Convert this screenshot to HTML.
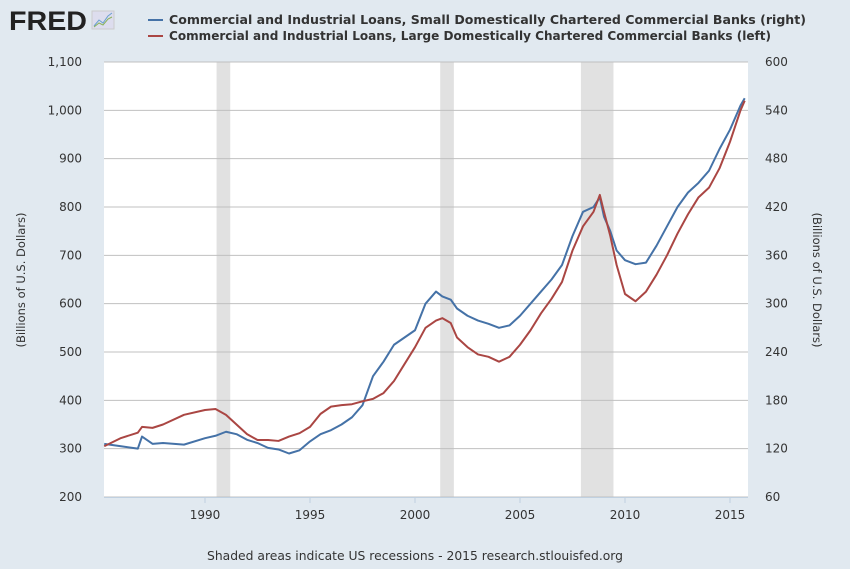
<!DOCTYPE html>
<html><head><meta charset="utf-8"><style>
body{margin:0;background:#e1e9f0;font-family:"DejaVu Sans",sans-serif;}
svg text{font-family:"DejaVu Sans",sans-serif;}
</style></head><body>
<svg width="850" height="565">
<rect x="0" y="0" width="850" height="565" fill="#e1e9f0"/>
<g>
<text x="9" y="30" font-size="27" font-weight="bold" fill="#222" style="font-family:'Liberation Sans',sans-serif" textLength="78" lengthAdjust="spacingAndGlyphs">FRED</text>
<rect x="92" y="11" width="22" height="18" fill="#dde" stroke="#ccc"/>
<polyline points="94,26 99,20 103,23 108,16 112,13" fill="none" stroke="#6a9fd0" stroke-width="1"/>
<polyline points="94,27 99,23 103,25 108,19 112,17" fill="none" stroke="#8ab35a" stroke-width="1"/>
</g>
<g>
<line x1="148" y1="20" x2="163" y2="20" stroke="#4572a7" stroke-width="2"/>
<text x="169" y="24" font-size="12" font-weight="bold" fill="#333" textLength="637" lengthAdjust="spacingAndGlyphs">Commercial and Industrial Loans, Small Domestically Chartered Commercial Banks (right)</text>
<line x1="148" y1="36" x2="163" y2="36" stroke="#aa4643" stroke-width="2"/>
<text x="169" y="40" font-size="12" font-weight="bold" fill="#333" textLength="602" lengthAdjust="spacingAndGlyphs">Commercial and Industrial Loans, Large Domestically Chartered Commercial Banks (left)</text>
</g>
<rect x="104" y="62" width="644" height="435" fill="#fff"/>
<g id="rec"></g><g id="grid"></g><g id="series"></g><g id="axes"></g>
<text x="0" y="0" transform="translate(25,280) rotate(-90)" text-anchor="middle" font-size="11.5" fill="#333">(Billions of U.S. Dollars)</text>
<text x="0" y="0" transform="translate(813,280) rotate(90)" text-anchor="middle" font-size="11.5" fill="#333">(Billions of U.S. Dollars)</text>
<text x="415" y="560" text-anchor="middle" font-size="12" fill="#333" textLength="416" lengthAdjust="spacingAndGlyphs">Shaded areas indicate US recessions - 2015 research.stlouisfed.org</text>
</svg>
<script>
const leftTicks=[200,300,400,500,600,700,800,900,1000,1100];
const leftLabels=["200","300","400","500","600","700","800","900","1,000","1,100"];
const rightTicks=[60,120,180,240,300,360,420,480,540,600];
const xTicks=[1990,1995,2000,2005,2010,2015];
const recessions=[[1990.55,1991.2],[2001.2,2001.85],[2007.9,2009.45]];
const years=[1985.2,1986,1986.8,1987,1987.5,1988,1989,1990,1990.5,1991,1991.5,1992,1992.5,1993,1993.5,1994,1994.5,1995,1995.5,1996,1996.5,1997,1997.5,1998,1998.5,1999,1999.5,2000,2000.5,2001,2001.3,2001.7,2002,2002.5,2003,2003.5,2004,2004.5,2005,2005.5,2006,2006.5,2007,2007.5,2008,2008.5,2008.8,2009,2009.3,2009.6,2010,2010.5,2011,2011.5,2012,2012.5,2013,2013.5,2014,2014.5,2015,2015.5,2015.7];
const largeBanks=[305,322,333,345,343,350,370,380,382,370,350,330,318,318,316,325,332,345,372,387,390,392,398,403,415,440,475,510,550,565,570,560,530,510,495,490,480,490,515,545,580,610,645,710,760,790,825,790,740,680,620,605,625,660,700,745,785,820,840,880,935,1000,1020];
const smallBanks=[126,123,120,135,126,127,125,133,136,141,138,131,127,121,119,114,118,129,138,143,150,159,174,210,228,249,258,267,300,315,309,305,294,285,279,275,270,273,285,300,315,330,348,384,414,420,432,408,390,366,354,349,351,372,396,420,438,450,465,492,516,546,555];
const X0=104,X1=748,Y0=497,Y1=62;
const xs=y=>X0+(y-1985.19)*21;
const yl=v=>Y0-(v-200)*(Y0-Y1)/900;
const yr=v=>Y0-(v-60)*(Y0-Y1)/540;
const NS="http://www.w3.org/2000/svg";
function mk(p,t,a){const e=document.createElementNS(NS,t);for(const k in a)e.setAttribute(k,a[k]);document.getElementById(p).appendChild(e);return e;}
recessions.forEach(r=>{const e=mk('rec','rect',{x:xs(r[0]),y:Y1,width:xs(r[1])-xs(r[0]),height:Y0-Y1,fill:'#e1e1e1'});

});
leftTicks.forEach((v,i)=>{const g=mk('grid','line',{x1:X0,x2:X1,y1:yl(v),y2:yl(v),stroke:'#c0c0c0','stroke-width':1});


const t=mk('axes','text',{x:82,y:yl(v)+4,'text-anchor':'end','font-size':12,fill:'#333'});t.textContent=leftLabels[i];

});
rightTicks.forEach(v=>{const t=mk('axes','text',{x:765,y:yr(v)+4,'font-size':12,fill:'#333'});t.textContent=v;

});
mk('axes','line',{x1:X0,x2:X1,y1:Y0+0.5,y2:Y0+0.5,stroke:'#c0d0e0','stroke-width':1});
xTicks.forEach(y=>{mk('axes','line',{x1:xs(y),x2:xs(y),y1:Y0,y2:Y0+6,stroke:'#c0d0e0'});
const t=mk('axes','text',{x:xs(y),y:Y0+22,'text-anchor':'middle','font-size':12,fill:'#333'});t.textContent=y;

});
const b=mk('series','polyline',{points:years.map((y,i)=>xs(y)+','+yr(smallBanks[i])).join(' '),fill:'none',stroke:'#4572a7','stroke-width':2,'stroke-linejoin':'round'});


const r=mk('series','polyline',{points:years.map((y,i)=>xs(y)+','+yl(largeBanks[i])).join(' '),fill:'none',stroke:'#aa4643','stroke-width':2,'stroke-linejoin':'round'});


</script>
</body></html>
